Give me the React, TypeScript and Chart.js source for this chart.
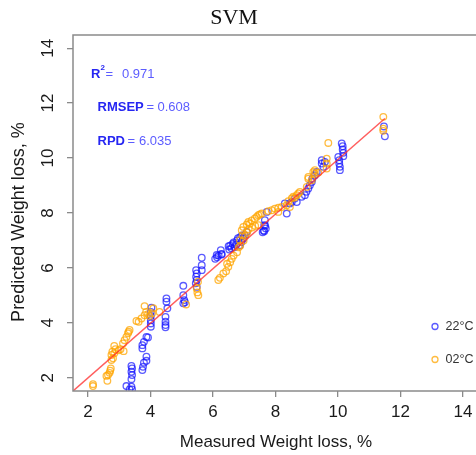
import React, { useEffect, useRef } from "react";
import { Chart, registerables } from "chart.js";

Chart.register(...registerables);

const TITLE = "SVM";
const X_LABEL = "Measured Weight loss, %";
const Y_LABEL = "Predicted Weight loss, %";
const X_TICKS = [2, 4, 6, 8, 10, 12, 14];
const Y_TICKS = [2, 4, 6, 8, 10, 12, 14];
const AXIS_MIN = 1.52;
const AXIS_MAX = 14.48;
const SERIES_NAMES = ["22°C", "02°C"];
const R2_VALUE = "0.971";
const RMSEP_VALUE = "0.608";
const RPD_VALUE = "6.035";

// 22°C (blue)
const BLUE_X = [
  3.23, 3.33, 3.41, 3.39, 3.39, 3.41, 3.39, 3.41, 3.39,
  3.74, 3.76, 3.79, 3.87, 3.87, 3.74, 3.74, 3.79, 3.87, 3.92,
  4.01, 4.01, 4.01, 4.01, 4.01, 4.03,
  4.51, 4.51, 4.54, 4.48, 4.48, 4.48, 4.48,
  5.05, 5.05, 5.08, 5.05, 5.1,
  5.46, 5.48, 5.46, 5.48, 5.45, 5.48,
  5.64, 5.64, 5.64,
  6.07, 6.13, 6.18, 6.27, 6.12, 6.25, 6.28,
  6.5, 6.55, 6.52, 6.59, 6.63, 6.66, 6.69, 6.74, 6.77, 6.8, 6.87, 6.93, 6.91, 7.02, 7.08, 6.97, 6.86,
  7.72, 7.66, 7.64, 7.69, 7.64, 7.59, 7.62, 7.67,
  8.3, 8.36, 8.46, 8.52, 8.62, 8.68,
  8.84, 8.94, 8.99, 9.05, 9.1, 9.16, 9.18, 9.26, 9.32,
  9.48, 9.48, 9.53, 9.58,
  10.01, 10.04, 10.04, 10.06, 10.06, 10.12, 10.15, 10.15, 10.17, 10.17,
  11.47, 11.5,
];
const BLUE_Y = [
  1.7, 1.58, 1.58, 1.68, 1.95, 2.1, 2.22, 2.34, 2.43,
  2.28, 2.4, 2.55, 2.62, 2.77, 3.07, 3.19, 3.31, 3.49, 3.47,
  3.86, 3.98, 4.1, 4.25, 4.4, 4.55,
  4.89, 4.77, 4.53, 4.22, 4.04, 3.92, 3.84,
  5.35, 5.01, 4.83, 4.71, 4.75,
  5.92, 5.8, 5.68, 5.56, 5.44, 5.31,
  6.37, 6.1, 5.92,
  6.33, 6.39, 6.45, 6.51, 6.47, 6.65, 6.49,
  6.79, 6.81, 6.67, 6.72, 6.87, 6.93, 6.75, 6.84, 7.0, 7.08, 7.12, 7.18, 6.94, 7.19, 7.31, 7.07, 6.83,
  8.04, 7.74, 7.56, 7.44, 7.34, 7.3, 7.36, 7.54,
  8.35, 7.98, 8.35, 8.4, 8.53, 8.4,
  8.59, 8.65, 8.77, 8.89, 9.01, 9.13, 9.25, 9.37, 9.49,
  9.92, 9.8, 9.68, 9.86,
  10.04, 9.92, 9.8, 9.68, 9.56, 10.53, 10.43, 10.31, 10.19, 10.07,
  11.15, 10.79,
];

// 02°C (orange)
const ORANGE_X = [
  2.16, 2.16, 2.62, 2.69, 2.71, 2.64, 2.59, 2.73,
  2.75, 2.8, 2.75, 2.84, 2.78, 2.88, 2.84, 2.98, 3.04,
  3.14, 3.12, 3.17, 3.23, 3.28, 3.33, 3.3,
  3.55, 3.62, 3.71, 3.81, 3.81, 3.86, 3.92, 3.97, 4.05, 4.09, 4.29,
  5.14, 5.48, 5.5, 5.53, 5.52,
  6.17, 6.22, 6.33, 6.42, 6.49, 6.45, 6.55, 6.6, 6.66, 6.77, 6.82, 6.87, 6.98, 7.03, 7.09, 7.14, 7.25, 7.35, 7.46,
  6.86, 6.92, 6.95, 6.97, 7.08, 7.13, 7.18, 7.24, 7.34, 7.4, 7.45, 7.5, 7.56,
  7.77, 7.88, 7.98, 8.09, 8.2, 8.09, 8.46,
  8.36, 8.41, 8.52, 8.57, 8.62, 8.68, 8.73, 8.78,
  9.0, 9.05, 9.21, 9.26, 9.37, 9.05, 9.16, 9.26,
  9.64, 9.64, 9.64, 9.69,
  11.45, 11.45, 11.45,
];
const ORANGE_Y = [
  1.77, 1.7, 1.89, 2.18, 2.26, 2.1, 2.07, 2.34,
  2.65, 2.71, 2.83, 2.89, 2.95, 3.04, 3.16, 3.0, 3.04,
  2.97, 3.25, 3.37, 3.49, 3.62, 3.74, 3.68,
  4.07, 4.04, 4.16, 4.28, 4.61, 4.4, 4.32, 4.25, 4.35, 4.53, 4.4,
  4.67, 5.25, 5.11, 5.01, 5.5,
  5.56, 5.64, 5.8, 5.88, 6.04, 6.15, 6.21, 6.33, 6.45, 6.57, 6.75, 6.81, 7.0, 7.17, 7.29, 7.41, 7.47, 7.53, 7.56,
  7.01, 7.37, 7.19, 7.49, 7.58, 7.67, 7.61, 7.73, 7.8, 7.86, 7.92, 7.95, 7.98,
  8.07, 8.1, 8.16, 8.19, 8.22, 8.04, 8.22,
  8.28, 8.43, 8.53, 8.59, 8.56, 8.65, 8.71, 8.77,
  8.95, 9.25, 9.49, 9.56, 9.47, 9.31, 9.19, 9.43,
  9.98, 9.8, 9.62, 10.55,
  11.5, 11.07, 10.99,
];

// fitted line
const FIT_X = [1.4, 11.5];
const FIT_Y = [1.4, 11.44];

const BLUE = "rgba(20,20,255,0.7)";
const ORANGE = "rgba(255,165,0,0.75)";
const FONT = "'Liberation Sans', Arial, sans-serif";

const toPts = (xs: number[], ys: number[]) => xs.map((x, i) => ({ x, y: ys[i] }));

const overlay = {
  id: "overlay",
  afterDraw(chart: any) {
    const { ctx, chartArea: a, scales } = chart;
    const xs = scales.x;
    const ys = scales.y;
    ctx.save();
    // box
    ctx.strokeStyle = "#8a8a8a";
    ctx.lineWidth = 1.5;
    ctx.strokeRect(a.left, a.top, a.right - a.left, a.bottom - a.top);

    // tick labels
    ctx.fillStyle = "#1a1a1a";
    ctx.font = `17px ${FONT}`;
    ctx.textAlign = "center";
    ctx.textBaseline = "middle";
    X_TICKS.forEach((v) => {
      ctx.fillText(String(v), xs.getPixelForValue(v), 412);
    });
    Y_TICKS.forEach((v) => {
      ctx.save();
      ctx.translate(48, ys.getPixelForValue(v));
      ctx.rotate(-Math.PI / 2);
      ctx.fillText(String(v), 0, 0);
      ctx.restore();
    });

    // axis titles
    ctx.font = `17px ${FONT}`;
    ctx.fillText(X_LABEL, 276, 442);
    ctx.save();
    ctx.translate(19, 222);
    ctx.rotate(-Math.PI / 2);
    ctx.font = `18px ${FONT}`;
    ctx.fillText(Y_LABEL, 0, 0);
    ctx.restore();

    // main title
    ctx.font = `22px 'Liberation Serif', 'Times New Roman', serif`;
    ctx.fillStyle = "#111";
    ctx.fillText(TITLE, 234, 18);

    // statistics
    ctx.textAlign = "left";
    ctx.textBaseline = "alphabetic";
    const bold = "#2626f2";
    const norm = "#5c5cff";
    ctx.font = `bold 13px ${FONT}`;
    ctx.fillStyle = bold;
    ctx.fillText("R", 91, 78);
    ctx.font = `bold 8px ${FONT}`;
    ctx.fillText("2", 100.5, 70);
    ctx.font = `13px ${FONT}`;
    ctx.fillStyle = norm;
    ctx.fillText("=", 105.5, 78);
    ctx.fillText(R2_VALUE, 122, 78);

    ctx.font = `bold 13px ${FONT}`;
    ctx.fillStyle = bold;
    ctx.fillText("RMSEP", 97.5, 111);
    ctx.font = `13px ${FONT}`;
    ctx.fillStyle = norm;
    ctx.fillText("=", 146.5, 111);
    ctx.fillText(RMSEP_VALUE, 157.5, 111);

    ctx.font = `bold 13px ${FONT}`;
    ctx.fillStyle = bold;
    ctx.fillText("RPD", 97.5, 145);
    ctx.font = `13px ${FONT}`;
    ctx.fillStyle = norm;
    ctx.fillText("=", 127.5, 145);
    ctx.fillText(RPD_VALUE, 139, 145);

    // legend
    const legendColors = [BLUE, ORANGE];
    const legendY = [326.5, 359.5];
    ctx.textBaseline = "middle";
    ctx.font = `12.5px ${FONT}`;
    SERIES_NAMES.forEach((name, i) => {
      ctx.beginPath();
      ctx.arc(435, legendY[i], 3, 0, Math.PI * 2);
      ctx.strokeStyle = legendColors[i];
      ctx.lineWidth = 1.3;
      ctx.stroke();
      ctx.fillStyle = "#333";
      ctx.fillText(name, 445.5, legendY[i] + 0.5);
    });
    ctx.restore();
  },
};

export default function App() {
  const ref = useRef<HTMLCanvasElement>(null);
  useEffect(() => {
    if (!ref.current) return;
    const tickGrid = {
      drawOnChartArea: false,
      drawTicks: true,
      tickLength: 6,
      color: "#8a8a8a",
      lineWidth: 1.3,
    };
    const chart = new Chart(ref.current, {
      type: "scatter",
      data: {
        datasets: [
          {
            type: "line",
            label: "fit",
            data: toPts(FIT_X, FIT_Y),
            borderColor: "rgba(255,40,40,0.75)",
            borderWidth: 1.5,
            pointRadius: 0,
            fill: false,
            clip: 0,
            order: 0,
          } as any,
          {
            label: SERIES_NAMES[1],
            data: toPts(ORANGE_X, ORANGE_Y),
            borderColor: ORANGE,
            backgroundColor: "transparent",
            pointRadius: 3.3,
            pointBorderWidth: 1.3,
            clip: 0,
            order: 1,
          },
          {
            label: SERIES_NAMES[0],
            data: toPts(BLUE_X, BLUE_Y),
            borderColor: BLUE,
            backgroundColor: "transparent",
            pointRadius: 3.3,
            pointBorderWidth: 1.3,
            clip: 0,
            order: 2,
          },
        ],
      },
      options: {
        responsive: false,
        animation: false,
        devicePixelRatio: 1,
        layout: { padding: { left: 0, top: 35, right: 12, bottom: 0 } },
        plugins: {
          legend: { display: false },
          title: { display: false },
          tooltip: { enabled: false },
        },
        scales: {
          x: {
            type: "linear",
            min: AXIS_MIN,
            max: AXIS_MAX,
            afterBuildTicks: (s: any) => {
              s.ticks = X_TICKS.map((v) => ({ value: v }));
            },
            afterFit: (s: any) => {
              s.height = 64;
            },
            ticks: { display: false },
            grid: tickGrid,
            border: { display: false },
          },
          y: {
            type: "linear",
            min: AXIS_MIN,
            max: AXIS_MAX,
            afterBuildTicks: (s: any) => {
              s.ticks = Y_TICKS.map((v) => ({ value: v }));
            },
            afterFit: (s: any) => {
              s.width = 73;
            },
            ticks: { display: false },
            grid: tickGrid,
            border: { display: false },
          },
        },
      },
      plugins: [overlay],
    });
    return () => chart.destroy();
  }, []);
  return (
    <div
      style={{
        position: "absolute",
        left: 0,
        top: 0,
        width: 476,
        height: 455,
        overflow: "hidden",
        background: "#fff",
      }}
    >
      <canvas ref={ref} width={490} height={455} style={{ display: "block" }} />
    </div>
  );
}
